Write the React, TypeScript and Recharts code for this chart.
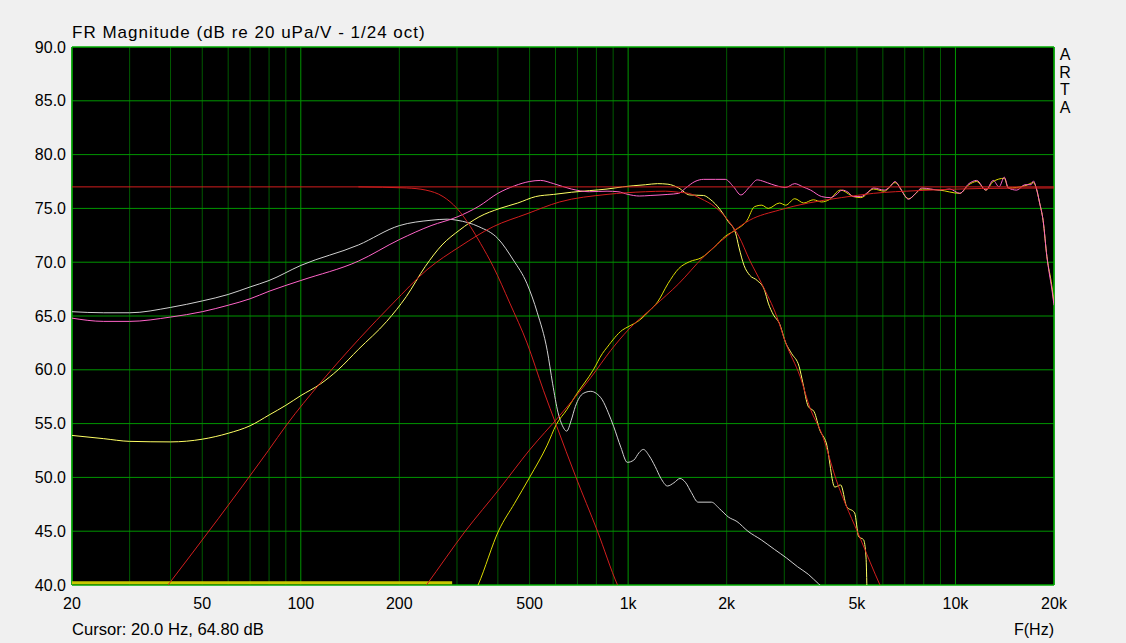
import React from 'react';
import { LineChart, Line, XAxis, YAxis, CartesianGrid, ReferenceArea } from 'recharts';

// woofer raw (white)
const wooferRawHz = [20, 25, 30, 40, 50, 60, 70, 80, 100, 150, 200, 250, 280, 300, 350, 400, 446, 491, 528, 566, 588, 611, 630, 649, 670, 690, 729, 769, 800, 834, 870, 904, 950, 994, 1040, 1080, 1113, 1160, 1210, 1260, 1319, 1380, 1441, 1500, 1560, 1636, 1797, 1900, 2028, 2150, 2322, 2550, 2802, 3050, 3292, 3550, 3820, 4000];
const wooferRawDb = [65.4, 65.3, 65.3, 65.8, 66.4, 67.0, 67.7, 68.3, 69.7, 71.6, 73.4, 73.9, 74.0, 73.9, 73.3, 72.2, 70.2, 68.0, 65.3, 61.8, 58.7, 56.0, 54.8, 54.3, 55.3, 56.6, 57.8, 58.0, 57.8, 57.2, 56.0, 54.7, 52.8, 51.4, 51.6, 52.3, 52.6, 52.0, 51.0, 49.9, 49.2, 49.5, 49.9, 49.5, 48.6, 47.7, 47.7, 47.1, 46.3, 45.9, 45.0, 44.2, 43.3, 42.5, 41.7, 41.0, 40.1, 39.6];

// total response (pink)
const totalHz = [20, 25, 30, 40, 50, 60, 70, 80, 100, 150, 200, 250, 300, 350, 400, 450, 500, 540, 592, 671, 761, 862, 931, 1000, 1082, 1167, 1323, 1427, 1500, 1600, 1700, 1850, 1980, 2100, 2210, 2350, 2480, 2600, 2740, 3030, 3230, 3420, 3610, 3900, 4150, 4310, 4510, 4700, 4870, 5140, 5400, 5620, 6060, 6300, 6540, 6800, 7190, 7500, 7910, 8400, 8950, 9600, 10310, 10990, 11610, 12390, 13040, 13590, 14100, 14500, 15400, 16310, 17030, 17300, 17650, 18080, 18520, 19030, 19340, 19700, 20000];
const totalDb = [64.8, 64.5, 64.5, 64.9, 65.4, 66.0, 66.6, 67.3, 68.3, 70.1, 72.1, 73.4, 74.2, 75.2, 76.4, 77.1, 77.5, 77.6, 77.3, 76.8, 76.55, 76.6, 76.55, 76.3, 76.15, 76.2, 76.3, 76.4, 76.9, 77.5, 77.7, 77.7, 77.7, 77.0, 76.25, 77.0, 77.65, 77.5, 77.25, 76.95, 77.3, 77.0, 76.7, 76.1, 76.0, 76.25, 76.7, 76.5, 76.1, 76.1, 76.5, 76.9, 76.7, 77.0, 77.5, 76.8, 75.85, 76.3, 76.9, 76.8, 76.7, 76.8, 76.4, 77.3, 77.6, 76.7, 77.6, 77.0, 77.9, 76.9, 76.7, 77.2, 77.2, 77.55, 76.9, 75.5, 73.9, 70.5, 69.0, 67.5, 66.0];

// woofer filtered (light yellow)
const wooferHz = [20, 25, 30, 40, 50, 60, 70, 80, 90, 100, 115, 130, 150, 183, 210, 240, 270, 306, 350, 406, 460, 522, 592, 671, 761, 862, 960, 1130, 1230, 1323, 1427, 1541, 1700, 1780, 1915, 2020, 2130, 2180, 2260, 2350, 2480, 2610, 2680, 2780, 2900, 3030, 3160, 3330, 3420, 3550, 3700, 3850, 4030, 4280, 4460, 4650, 4920, 5060, 5240, 5330, 5370];
const wooferDb = [53.9, 53.6, 53.35, 53.3, 53.55, 54.1, 54.8, 55.8, 56.7, 57.6, 58.7, 60.0, 61.9, 64.5, 66.8, 69.6, 71.6, 73.0, 74.2, 75.0, 75.5, 76.1, 76.3, 76.5, 76.65, 76.8, 77.0, 77.2, 77.3, 77.25, 76.9, 76.25, 76.2, 75.85, 74.85, 73.8, 72.7, 71.4, 69.7, 68.8, 68.3, 67.4, 66.2, 65.1, 64.3, 62.5, 61.5, 60.3, 58.75, 56.6, 56.1, 54.4, 53.2, 49.1, 49.3, 47.3, 46.7, 44.5, 44.2, 42.6, 39.0];

// tweeter filtered (yellow)
const tweeterHz = [330, 348, 403, 450, 500, 566, 603, 650, 691, 783, 834, 863, 961, 1000, 1082, 1167, 1230, 1323, 1427, 1541, 1670, 1840, 1980, 2130, 2310, 2430, 2560, 2680, 2900, 3030, 3230, 3440, 3680, 3900, 4110, 4450, 4880, 5140, 5620, 6060, 6540, 7190, 7910, 8950, 10310, 10990, 11610, 12390, 13040, 14100, 14500, 16310, 17300, 17650, 18080, 18520, 19030, 19700, 20000];
const tweeterDb = [38.5, 40.0, 45.1, 47.6, 50.0, 53.0, 54.9, 56.3, 57.6, 60.0, 61.5, 62.1, 63.7, 64.0, 64.6, 65.55, 66.3, 68.0, 69.4, 70.05, 70.4, 71.45, 72.4, 73.0, 73.9, 75.15, 75.3, 75.0, 75.5, 75.3, 75.9, 75.5, 75.8, 75.6, 75.8, 76.7, 76.1, 76.0, 76.8, 76.6, 77.4, 75.9, 76.8, 76.7, 76.4, 77.2, 77.5, 76.7, 77.5, 77.8, 76.9, 77.1, 77.4, 76.9, 75.5, 73.9, 70.5, 67.8, 66.2];

// targets (red)
const flatHz = [20, 20000];
const flatDb = [77.0, 77.0];
const lowTargetHz = [150, 210, 241, 272, 300, 330, 354, 387, 435, 491, 551, 606, 691, 806, 928, 1000];
const lowTargetDb = [77.0, 76.9, 76.7, 76.1, 75.0, 73.3, 71.75, 69.6, 66.2, 62.5, 58.1, 54.7, 50.1, 45.0, 40.0, 38.0];
const bandTargetHz = [35, 39.3, 79.6, 90.6, 114.5, 151, 191.5, 243, 306, 387, 491, 618, 862, 1130, 1300, 1427, 1530, 1670, 1840, 2020, 2180, 2350, 2560, 2850, 3030, 3350, 3610, 3900, 4320, 5140, 5880, 6200];
const bandTargetDb = [38.0, 40.0, 52.5, 54.9, 58.75, 62.9, 66.2, 69.3, 71.45, 73.3, 74.5, 75.6, 76.3, 76.55, 76.6, 76.5, 76.4, 75.9, 75.15, 73.9, 72.4, 70.2, 68.0, 64.9, 62.5, 59.4, 56.3, 54.1, 49.8, 44.2, 40.0, 38.5];
const highTargetHz = [220, 242, 318, 406, 500, 620, 770, 885, 1000, 1200, 1427, 1700, 2020, 2350, 2900, 3550, 4480, 5620, 7640, 12000, 20000];
const highTargetDb = [38.3, 40.0, 45.0, 49.0, 52.55, 55.8, 59.3, 61.8, 63.7, 65.9, 68.0, 70.5, 72.5, 73.9, 74.85, 75.5, 76.0, 76.4, 76.65, 76.85, 76.9];

// thick trace on the floor
const floorHz = [20, 290];
const floorDb = [40.2, 40.2];

const xTicks = [20, 50, 100, 200, 500, 1000, 2000, 5000, 10000, 20000];
const xTickLabels = ['20', '50', '100', '200', '500', '1k', '2k', '5k', '10k', '20k'];
const minorHz = [30, 40, 50, 60, 70, 80, 90, 200, 300, 400, 500, 600, 700, 800, 900, 2000, 3000, 4000, 5000, 6000, 7000, 8000, 9000];
const majorHz = [100, 1000, 10000];
const yTicks = [40, 45, 50, 55, 60, 65, 70, 75, 80, 85, 90];

const pts = (hz: number[], db: number[]) => hz.map((f, i) => ({ f, v: db[i] }));

const series = [
  { id: 'raw', data: pts(wooferRawHz, wooferRawDb), color: '#d0d0d0', w: 1 },
  { id: 'woofer', data: pts(wooferHz, wooferDb), color: '#ffff64', w: 1 },
  { id: 'tweeter', data: pts(tweeterHz, tweeterDb), color: '#dcdc00', w: 1 },
  { id: 'total', data: pts(totalHz, totalDb), color: '#ff64c8', w: 1 },
  { id: 'floor', data: pts(floorHz, floorDb), color: '#c8c800', w: 3 },
  { id: 'flat', data: pts(flatHz, flatDb), color: '#d21e1e', w: 1 },
  { id: 'lowT', data: pts(lowTargetHz, lowTargetDb), color: '#d21e1e', w: 1 },
  { id: 'bandT', data: pts(bandTargetHz, bandTargetDb), color: '#d21e1e', w: 1 },
  { id: 'highT', data: pts(highTargetHz, highTargetDb), color: '#d21e1e', w: 1 },
];

const font = '"Liberation Sans", Arial, sans-serif';
const tickStyle = { fill: '#000', fontSize: 16, fontFamily: font };

export default function App() {
  return (
    <div style={{ position: 'absolute', left: 0, top: 0, width: 1126, height: 643, background: '#f0f0f0', fontFamily: font, color: '#000' }}>
      <div style={{ position: 'absolute', left: 72, top: 23, fontSize: 17, letterSpacing: 1, lineHeight: '20px', whiteSpace: 'nowrap' }}>
        FR Magnitude (dB re 20 uPa/V - 1/24 oct)
      </div>
      <div style={{ position: 'absolute', left: 1057, top: 46, width: 16, fontSize: 16, lineHeight: '17.6px', textAlign: 'center' }}>
        A<br />R<br />T<br />A
      </div>
      <div style={{ position: 'absolute', left: 72, top: 621, fontSize: 16.6, lineHeight: '18px', whiteSpace: 'nowrap' }}>
        Cursor: 20.0 Hz, 64.80 dB
      </div>
      <div style={{ position: 'absolute', right: 1126 - 1054, top: 621, fontSize: 16, lineHeight: '18px', whiteSpace: 'nowrap' }}>
        F(Hz)
      </div>
      <LineChart width={1126} height={643} margin={{ top: 47, right: 72, bottom: 28, left: 12 }} style={{ position: 'absolute', left: 0, top: 0 }}>
        <XAxis
          xAxisId="main" dataKey="f" type="number" scale="log" domain={[20, 20000]} allowDataOverflow
          ticks={xTicks} tickFormatter={(v: number) => xTickLabels[xTicks.indexOf(v)] ?? String(v)}
          axisLine={false} tickLine={false} tickSize={6} tickMargin={7} height={30}
          tick={tickStyle} interval={0}
        />
        <XAxis xAxisId="minor" dataKey="f" type="number" scale="log" domain={[20, 20000]} allowDataOverflow ticks={minorHz} hide interval={0} />
        <XAxis xAxisId="major" dataKey="f" type="number" scale="log" domain={[20, 20000]} allowDataOverflow ticks={majorHz} hide interval={0} />
        <YAxis
          domain={[40, 90]} allowDataOverflow ticks={yTicks} interval={0} width={60}
          tickFormatter={(v: number) => v.toFixed(1)}
          axisLine={false} tickLine={false} tickSize={4} tickMargin={2} tick={tickStyle}
        />
        <CartesianGrid xAxisId="minor" fill="#000" fillOpacity={1} horizontal={false} stroke="#005a00" />
        <CartesianGrid xAxisId="major" stroke="#009600" />
        <ReferenceArea xAxisId="main" x1={20} x2={20000} y1={40} y2={90} fill="none" fillOpacity={0} stroke="#00b400" strokeWidth={1} />
        {series.map((s) => (
          <Line
            key={s.id} xAxisId="main" data={s.data} dataKey="v" type="monotone"
            stroke={s.color} strokeWidth={s.w} dot={false} activeDot={false}
            isAnimationActive={false}
          />
        ))}
      </LineChart>
    </div>
  );
}
